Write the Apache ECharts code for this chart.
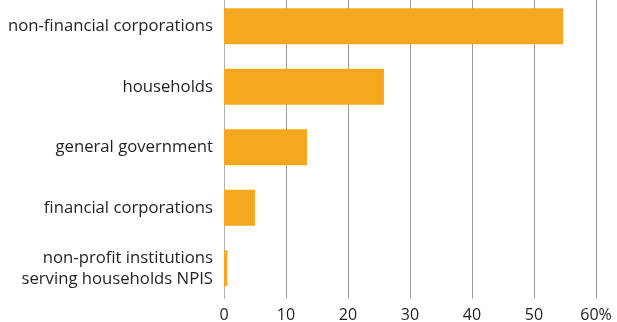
<!DOCTYPE html>
<html><head><meta charset="utf-8">
<script src="https://cdn.jsdelivr.net/npm/echarts@6/dist/echarts.min.js"></script>
<style>html,body{margin:0;padding:0;background:#fff}#c{width:617px;height:322px}</style>
</head><body><div id="c"></div>
<script>
var categories = ["non-financial corporations", "households", "general government", "financial corporations", "non-profit institutions\nserving households NPIS"];
var values = [54.7, 25.8, 13.4, 5.0, 0.55];
var xTicks = [0, 10, 20, 30, 40, 50, 60];

var chart = echarts.init(document.getElementById('c'), null, {renderer: 'canvas'});
chart.setOption({
  animation: false,
  grid: {left: 224, right: 21, top: -4, height: 302.5, containLabel: false, outerBoundsMode: 'none'},
  xAxis: {
    type: 'value', min: 0, max: 60, interval: 10,
    axisLine: {show: false}, axisTick: {show: false},
    splitLine: {show: true, lineStyle: {color: '#9a9a9a', width: 1}},
    axisLabel: {
      color: '#231f20', fontFamily: 'Open Sans', fontSize: 16, margin: 9,
      formatter: function (v) { return v === xTicks[xTicks.length - 1] ? v + '%' : String(v); }
    }
  },
  yAxis: {
    type: 'category', data: categories, inverse: true,
    axisLine: {show: true, lineStyle: {color: '#b0b0b0', width: 1}},
    axisTick: {show: false},
    axisLabel: {color: '#231f20', fontFamily: 'Open Sans', fontSize: 16.7, margin: 11, align: 'right', lineHeight: 21}
  },
  series: [{
    type: 'bar', data: values, barWidth: 36,
    itemStyle: {color: '#f5a81f'}
  }]
});
</script></body></html>
